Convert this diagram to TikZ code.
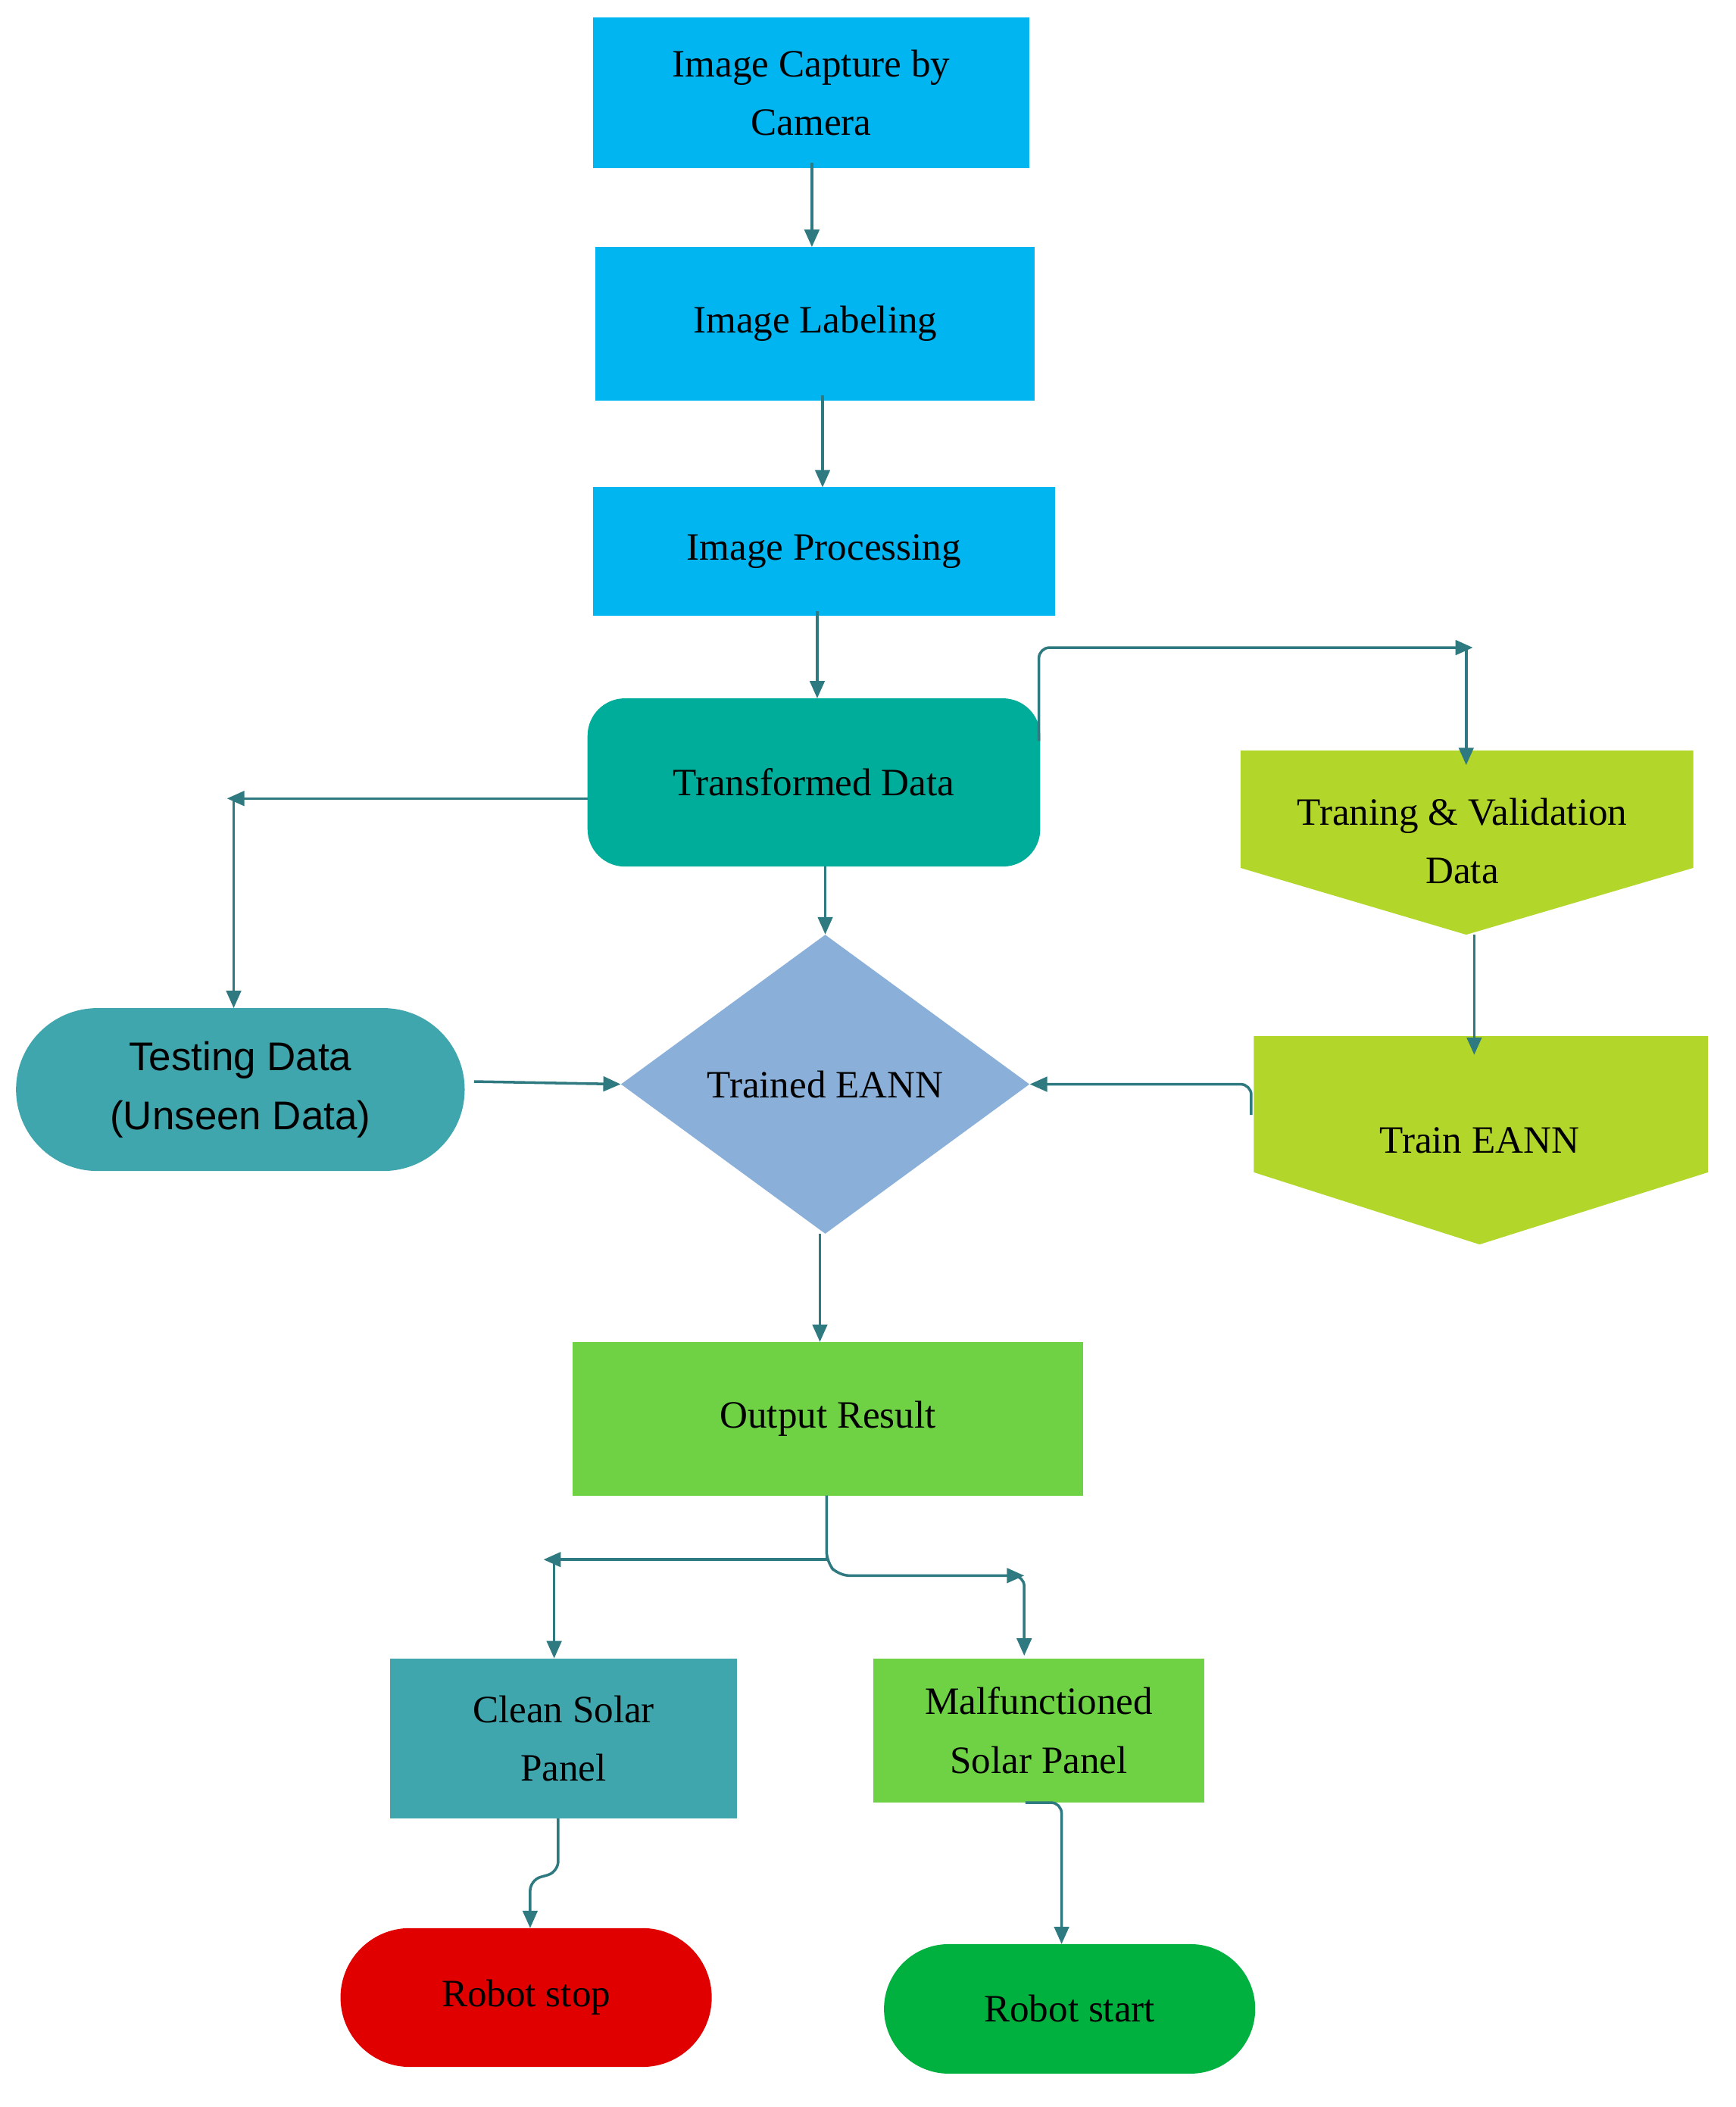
\documentclass[tikz,border=0pt]{standalone}
\usepackage{fontspec}
\setmainfont{Liberation Serif}
\newfontfamily\sansf{Liberation Sans}
\usetikzlibrary{shapes.geometric,shapes.misc,arrows.meta}
\definecolor{cyanb}{RGB}{0,181,240}
\definecolor{tealb}{RGB}{0,173,154}
\definecolor{diam}{RGB}{138,176,218}
\definecolor{tealc}{RGB}{64,166,174}
\definecolor{lime}{RGB}{178,214,42}
\definecolor{grn}{RGB}{111,210,69}
\definecolor{redb}{RGB}{224,0,0}
\definecolor{grnb}{RGB}{0,177,64}
\definecolor{conn}{RGB}{46,122,128}
\begin{document}
\begin{tikzpicture}[x=1pt,y=-1pt,
  lab/.style={font=\fontsize{29}{44}\selectfont,align=center,text=black},
  box/.style={lab,draw=none,inner sep=0pt},
  ar/.style={draw=conn,line width=2pt,-{Triangle[length=13pt,width=11pt]}},
  ln/.style={draw=conn,line width=2pt}]
\useasboundingbox (0,0) rectangle (1300,1578);
\node[box,fill=cyanb,minimum width=327pt,minimum height=113pt] (n1) at (607.5,69.5) {Image Capture by\\Camera};
\node[box,fill=cyanb,minimum width=329pt,minimum height=115pt] (n2) at (610.5,242.5) {Image Labeling};
\node[box,fill=cyanb,minimum width=346pt,minimum height=96pt] (n3) at (617,413) {Image Processing};
\node[box,fill=tealb,rounded corners=28pt,minimum width=339pt,minimum height=126pt] (td) at (609.5,586) {Transformed Data};
\node[box,fill=diam,diamond,minimum width=306pt,minimum height=224pt,aspect=1.37] (tr) at (618,812) {Trained EANN};
\node[box,fill=tealc,rounded rectangle,minimum width=336pt,minimum height=122pt,font=\sansf\fontsize{30}{44}\selectfont] (ts) at (180,816) {Testing Data\\(Unseen Data)};
% pentagons
\fill[lime] (929,562) -- (1268,562) -- (1268,650) -- (1098,700) -- (929,650) -- cycle;
\node[lab] (tv) at (1095,630) {Traning \& Validation\\Data};
\fill[lime] (939,776) -- (1279,776) -- (1279,878) -- (1108,932) -- (939,878) -- cycle;
\node[lab] (te) at (1108,854) {Train EANN};
\coordinate (tvb) at (1104,700);
\coordinate (tet) at (1104,790);
\coordinate (tel) at (937,835);
\node[box,fill=grn,minimum width=382pt,minimum height=115pt] (out) at (620,1062.5) {Output Result};
\node[box,fill=tealc,minimum width=260pt,minimum height=120pt] (cl) at (422,1302) {Clean Solar\\Panel};
\node[box,fill=grn,minimum width=248pt,minimum height=108pt] (mf) at (778,1296) {Malfunctioned\\Solar Panel};
\node[box,fill=redb,rounded rectangle,minimum width=278pt,minimum height=104pt] (rs) at (394,1496) {Robot stop};
\node[box,fill=grnb,rounded rectangle,minimum width=278pt,minimum height=97pt] (rt) at (801,1504.5) {Robot start};
% connector anchor points
\coordinate (a1) at (608,122); \coordinate (b1) at (608,185);
\coordinate (a2) at (616,296); \coordinate (b2) at (616,365);
\coordinate (a3) at (612,458); \coordinate (b3) at (612,523);
\coordinate (tdr) at (778,555); \coordinate (tvc) at (1103,485);
\coordinate (tvs) at (1098,485); \coordinate (tvt) at (1098,573);
\coordinate (tdw) at (440,598); \coordinate (tdl) at (170,598);
\coordinate (tsc) at (175,598); \coordinate (tsn) at (175,755);
\coordinate (tdb) at (618,649);
\coordinate (tse) at (355,810);
\coordinate (trs) at (614,924); \coordinate (outn) at (614,1005);
\coordinate (outs) at (619,1120); \coordinate (ol) at (407,1168);
\coordinate (cls) at (415,1168); \coordinate (cln) at (415,1242);
\coordinate (orr) at (767,1180); \coordinate (mfn) at (767,1240);
\coordinate (clb) at (418,1362); \coordinate (rsn) at (397,1444);
\coordinate (mfb) at (768,1350); \coordinate (rtn) at (795,1456);
% connectors
\draw[ar] (a1) -- (b1);
\draw[ar] (a2) -- (b2);
\draw[ar] (a3) -- (b3);
\draw[ar,rounded corners=8pt] (tdr) |- (tvc);
\draw[ar] (tvs) -- (tvt);
\draw[ar] (tdw) -- (tdl);
\draw[ar] (tsc) -- (tsn);
\draw[ar] (tdb) -- (tr.north);
\draw[ar] (tse) -- (tr.west);
\draw[ar,rounded corners=8pt] (tel) |- (tr.east);
\draw[ar] (tvb) -- (tet);
\draw[ar] (trs) -- (outn);
\draw[ar] (outs) |- (ol);
\draw[ar] (cls) -- (cln);
\draw[ar,rounded corners=8pt] (outs) -- ++(0,50) -- ++(9,10) -- (orr);
\draw[ar,rounded corners=8pt] ([xshift=-10pt]orr) -- (orr) -- (mfn);
\draw[ar,rounded corners=8pt] (clb) -- ++(0,40) -- ++(-21,6) -- (rsn);
\draw[ar,rounded corners=8pt] (mfb) -- ++(27,0) -- (rtn);
\end{tikzpicture}
\end{document}
